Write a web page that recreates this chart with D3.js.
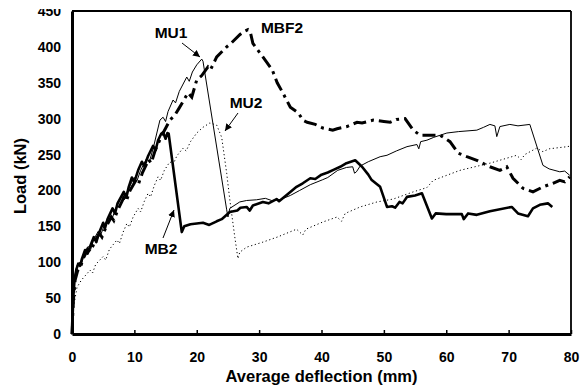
<!DOCTYPE html>
<html><head><meta charset="utf-8">
<script src="https://cdn.jsdelivr.net/npm/d3@7"></script>
<style>
html,body{margin:0;padding:0;background:#fff;}
text{font-family:"Liberation Sans",Arial,sans-serif;font-weight:bold;fill:#000;}
</style></head>
<body><svg id="c" width="585" height="387"></svg>
<script>
// ---- data (deflection mm, load kN) ----
const xTicks = [0,10,20,30,40,50,60,70,80];
const yTicks = [0,50,100,150,200,250,300,350,400,450];
const xTitle = "Average deflection (mm)";
const yTitle = "Load (kN)";

const MB2 = [[0,0],[0.2,50],[0.4,75],[0.7,90],[1.0,98],[1.3,95],[1.6,105],[2.1,117],[2.5,112],[2.9,122],[3.5,135],[3.9,128],[4.3,140],[5.0,155],[5.3,148],[5.7,160],[6.5,175],[6.9,168],[7.3,182],[8.3,198],[8.7,190],[9.1,205],[9.6,218],[10.0,212],[10.6,228],[11.2,240],[11.6,234],[12.2,248],[13.0,262],[13.4,256],[13.8,270],[14.3,279],[14.6,281],[15.0,272],[15.3,280],[15.5,279],[17.6,142],[18.0,150],[19,153],[21,155],[22,152],[23.2,157],[24,160],[25.3,170],[26.5,172],[27,176],[28,177],[28.5,172],[29,179],[30.6,184],[31.5,182],[32.8,188],[33.2,185],[35,198],[36,205],[37,210],[38.2,217],[39,216],[40,222],[41,225],[42,229],[43,233],[44,238],[45.4,242],[46.5,233],[47.5,222],[48,215],[49.4,205],[50.5,177],[51.3,178],[51.8,176],[52.5,184],[53,182],[53.7,191],[55,193],[56.1,196],[57.7,161],[58.3,168],[60,167],[62.5,167],[62.8,160],[63.5,168],[64.9,166],[67,171],[70.5,177],[71.5,168],[73.1,164],[73.9,175],[75,180],[76.3,182],[77,177]];

const MU1 = [[0,0],[0.2,55],[0.4,80],[0.8,95],[1.2,100],[1.5,97],[2,112],[2.6,122],[3,118],[3.5,132],[4.2,143],[4.6,138],[5.2,152],[6,165],[6.4,160],[7,175],[8,192],[8.4,187],[9,202],[10,218],[10.4,213],[11,228],[12,245],[12.4,240],[13,258],[13.6,280],[14.1,298],[14.6,302],[15,296],[15.4,310],[16.2,326],[16.6,322],[17.2,338],[18.4,358],[18.8,352],[19.3,365],[20,375],[20.8,383],[21.0,380],[24.8,173],[25,163],[25.3,175],[26.9,184],[28,186],[29.6,187],[31,189],[32,186],[33.3,187],[35,193],[36.5,200],[38.2,208],[40.2,215],[41,218],[42.6,228],[44,232],[45,233],[45.3,224],[45.6,226],[46.2,234],[47.5,240],[49.4,247],[50.5,249],[52,255],[53.7,261],[55.3,264],[55.6,258],[55.9,268],[56.9,270],[58,274],[60.1,280],[62,282],[64.9,284],[66,288],[67,292],[67.8,290],[68.1,275],[68.6,289],[70.2,292],[71.5,290],[73.4,292],[75.5,235],[76.5,230],[78.2,226],[79,227],[79.8,221]];

const MBF2 = [[0,0],[0.2,45],[0.5,75],[0.9,88],[1.3,92],[1.8,105],[2.5,118],[3,115],[3.6,128],[4.4,140],[4.8,135],[5.5,150],[6.3,163],[6.7,158],[7.3,172],[8.3,190],[8.7,185],[9.3,200],[10.3,215],[10.7,210],[11.3,225],[12.3,243],[12.7,238],[13.3,255],[14.3,275],[15.7,298],[16.5,305],[17.2,315],[18.6,336],[19.2,330],[20,354],[20.8,360],[21.8,372],[22.2,368],[23.2,386],[24.8,400],[25.5,405],[26.9,417],[27.5,421],[28.2,424],[28.6,420],[29,405],[30.6,386],[32.1,368],[32.9,350],[33.8,336],[35,316],[36.3,308],[37,298],[37.7,295],[39,292],[40.2,287],[41.8,284],[42.5,286],[44.1,289],[45.7,295],[46.5,294],[48.3,298],[50,296],[51,295],[52,299],[53.4,300],[54.7,284],[55.8,277],[57.5,277],[59,277],[60.6,268],[61.9,252],[63.3,247],[64.9,242],[67,233],[68.6,228],[69.7,233],[70.7,217],[72.3,203],[73.9,198],[75.5,205],[77.1,210],[78.2,214],[79,212],[79.8,219]];

const MU2 = [[0,0],[0.3,40],[0.8,65],[1.5,75],[2.2,82],[2.9,89],[3.3,85],[3.8,97],[5,108],[5.4,103],[6,118],[7.2,131],[7.6,126],[8.2,142],[8.8,154],[9.2,149],[9.8,163],[10.6,175],[11,170],[11.6,185],[12.2,196],[12.6,191],[13.2,207],[13.8,219],[14.2,214],[14.8,228],[15.7,240],[16.2,236],[16.8,248],[17.8,259],[18.3,255],[19,268],[20,280],[21,288],[22.1,294],[23.2,291],[24,274],[24.8,224],[25.3,187],[26.1,135],[26.6,105],[26.9,114],[28,121],[30.6,128],[32.9,135],[36,146],[37,138],[37.5,146],[40.2,156],[42.5,163],[43.2,157],[43.8,168],[46.2,177],[48.9,184],[51.5,188],[54.7,198],[56.9,204],[57.9,214],[62.2,228],[67,238],[71.3,249],[72,243],[72.6,250],[74.5,259],[75.5,254],[76.5,258],[79.4,261],[80,262]];

const labels = [
  {name:"MU1", x:171, y:38},
  {name:"MBF2", x:282, y:33},
  {name:"MU2", x:246, y:108},
  {name:"MB2", x:161, y:254}
];
const arrows = [
  {from:[182,43], to:[200,57]},
  {from:[238,113], to:[225,131]},
  {from:[163,238], to:[174,210]}
];

// ---- chart ----
const svg = d3.select("#c");
const L=72, R=571, T=11, B=334;
const x = d3.scaleLinear().domain([0,80]).range([L,R]);
const y = d3.scaleLinear().domain([0,450]).range([B,T]);

const defs = svg.append("defs");
defs.append("marker").attr("id","ah").attr("viewBox","0 0 10 10")
  .attr("refX",10).attr("refY",5).attr("markerWidth",7).attr("markerHeight",7)
  .attr("markerUnits","userSpaceOnUse").attr("orient","auto")
  .append("path").attr("d","M0,0L10,5L0,10z").attr("fill","#000");
defs.append("clipPath").attr("id","topclip")
  .append("rect").attr("x",-200).attr("y",9).attr("width",900).attr("height",400);

const line = d3.line().x(d=>x(d[0])).y(d=>y(d[1]));

// series
svg.append("path").datum(MU2).attr("d",line).attr("fill","none")
  .attr("stroke","#000").attr("stroke-width",1).attr("stroke-dasharray","1.2,2.6");
svg.append("path").datum(MU1).attr("d",line).attr("fill","none")
  .attr("stroke","#000").attr("stroke-width",1);
svg.append("path").datum(MBF2).attr("d",line).attr("fill","none")
  .attr("stroke","#000").attr("stroke-width",3).attr("stroke-dasharray","13,5,3,5");
svg.append("path").datum(MB2).attr("d",line).attr("fill","none")
  .attr("stroke","#000").attr("stroke-width",2.6).attr("stroke-linejoin","round");

// frame top/right
svg.append("line").attr("x1",L).attr("x2",R).attr("y1",T).attr("y2",T)
  .attr("stroke","#000").attr("stroke-width",1.8);
svg.append("line").attr("x1",R).attr("x2",R).attr("y1",T).attr("y2",B)
  .attr("stroke","#000").attr("stroke-width",1.8);

// axes
const gx = svg.append("g").attr("transform",`translate(0,${B})`)
  .call(d3.axisBottom(x).tickValues(xTicks).tickFormat(d3.format("d"))
    .tickSizeInner(-4).tickSizeOuter(0).tickPadding(18));
gx.select(".domain").attr("stroke-width",3);
gx.selectAll(".tick line").attr("stroke-width",1.5);
gx.selectAll("text").attr("font-size",14).attr("font-family",null);

const gyWrap = svg.append("g").attr("clip-path","url(#topclip)");
const gy = gyWrap.append("g").attr("transform",`translate(${L},0)`)
  .call(d3.axisLeft(y).tickValues(yTicks).tickFormat(d3.format("d"))
    .tickSize(0).tickPadding(11));
gy.select(".domain").attr("stroke-width",3);
gy.selectAll("text").attr("font-size",14).attr("font-family",null);

// titles
svg.append("text").attr("x",(L+R)/2).attr("y",382).attr("text-anchor","middle")
  .attr("font-size",16.5).text(xTitle);
svg.append("text").attr("transform",`translate(26,176) rotate(-90)`)
  .attr("text-anchor","middle").attr("font-size",16.5).text(yTitle);

// annotations
svg.selectAll(".lab").data(labels).enter().append("text")
  .attr("x",d=>d.x).attr("y",d=>d.y).attr("text-anchor","middle")
  .attr("font-size",15.5).text(d=>d.name);
svg.selectAll(".arr").data(arrows).enter().append("line")
  .attr("x1",d=>d.from[0]).attr("y1",d=>d.from[1])
  .attr("x2",d=>d.to[0]).attr("y2",d=>d.to[1])
  .attr("stroke","#000").attr("stroke-width",1).attr("marker-end","url(#ah)");
</script></body></html>
